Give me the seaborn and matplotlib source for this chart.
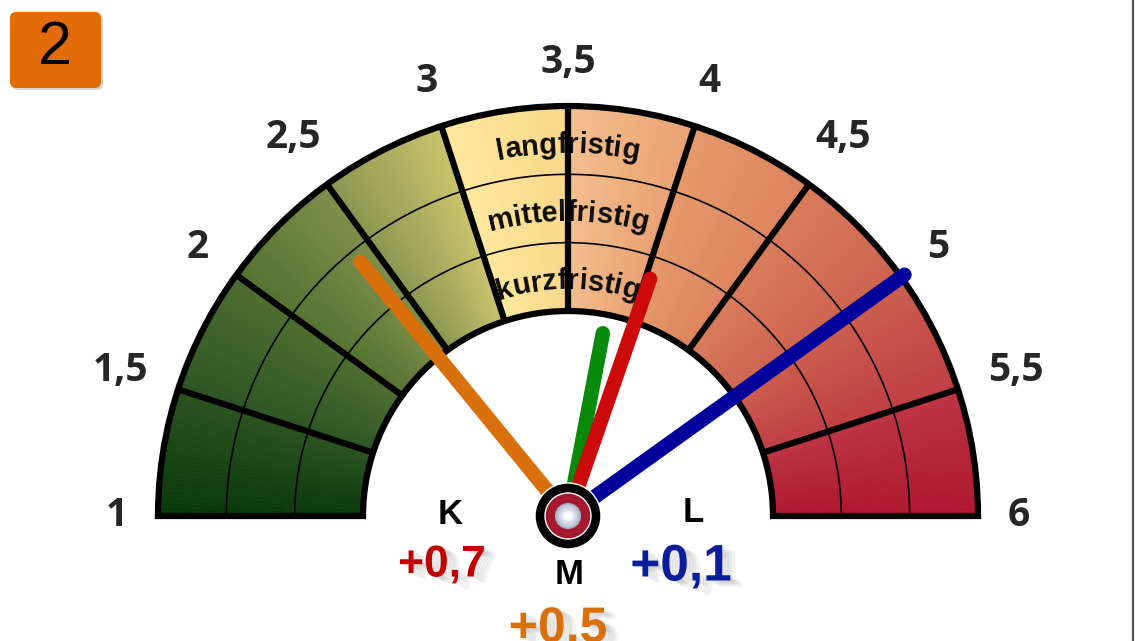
import numpy as np
import matplotlib
matplotlib.use("Agg")
import matplotlib.pyplot as plt
import matplotlib.patches as mpatches
import matplotlib.patheffects as pe
from matplotlib.textpath import TextToPath
from matplotlib.font_manager import FontProperties
import seaborn as sns

''' Data '''
# scale of the gauge (half steps)
scale_values = [1, 1.5, 2, 2.5, 3, 3.5, 4, 4.5, 5, 5.5, 6]
scale_labels = ["1", "1,5", "2", "2,5", "3", "3,5", "4", "4,5", "5", "5,5", "6"]

# colour at the low / high end of every half-step sector
sector_start = ["#0a380a", "#2d5524", "#547331", "#8a9650", "#fde89e",
                "#f3bf8d", "#e6996a", "#d97c5a", "#cb5e4e", "#bd3443"]
sector_end = ["#2a5320", "#4e6e2f", "#7d8e4a", "#c9c26c", "#f9d88a",
              "#e9a273", "#dd845e", "#ce6450", "#c03f44", "#ae1730"]

# rings from inside to outside
ring_labels = ["kurzfristig", "mittelfristig", "langfristig"]

# needles
needle_values = [2.41, 3.80, 4.03, 5.01]
needle_colors = ["#d9700b", "#0a8a0a", "#cc0a0a", "#00009a"]
needle_lengths = [328, 186, 251, 414]

# K / M / L changes
group_names = ["K", "M", "L"]
group_changes = ["+0,7", "+0,5", "+0,1"]
group_colors = ["#c00000", "#d9700b", "#0a1e9a"]

badge = "2"

''' Layout '''
sns.set_style("white")
plt.rcParams["font.family"] = ["Open Sans", "DejaVu Sans"]

W, H = 1136, 641
fig = plt.figure(figsize=(W / 100, H / 100), dpi=100)
ax = fig.add_axes([0, 0, 1, 1])
ax.set_xlim(0, W)
ax.set_ylim(0, H)
ax.axis("off")

CX, CY = 568, 125
R_IN, R_OUT = 205, 410
ring_edges = np.linspace(R_IN, R_OUT, 4)
ttp = TextToPath()


def deg(v):
    return 180 - (v - 1) * 36


def polar(v, r):
    a = np.radians(deg(v))
    return CX + r * np.cos(a), CY + r * np.sin(a)


def width_px(s, prop):
    if s == "":
        return 0.0
    return ttp.get_text_width_height_descent(s, prop, ismath=False)[0] * 100 / 72


# gradient sectors
n_sub = 30
for i in range(len(scale_values) - 1):
    cols = sns.blend_palette([sector_start[i], sector_end[i]], n_colors=n_sub)
    edges = np.linspace(scale_values[i], scale_values[i + 1], n_sub + 1)
    for j in range(n_sub):
        ax.add_patch(mpatches.Wedge((CX, CY), R_OUT, deg(edges[j + 1]), deg(edges[j]),
                                    width=R_OUT - R_IN, fc=cols[j], ec=cols[j], lw=0.6, zorder=1))

# ring texts along the arcs
fp = FontProperties(family="Liberation Sans", weight="bold", size=21)
for lab, rb in zip(ring_labels, [227, 295, 363]):
    total = width_px(lab, fp)
    for k, ch in enumerate(lab):
        mid = (width_px(lab[:k], fp) + width_px(lab[:k + 1], fp)) / 2
        a = np.pi / 2 - (mid - total / 2) / rb
        ax.text(CX + rb * np.cos(a), CY + rb * np.sin(a), ch, fontproperties=fp,
                rotation=np.degrees(a) - 90, rotation_mode="anchor",
                ha="center", va="baseline", color="#0d0d0d", zorder=2)

# thin ring dividers
t = np.radians(np.linspace(0, 180, 300))
for r in ring_edges[1:3]:
    ax.plot(CX + r * np.cos(t), CY + r * np.sin(t), color="black", lw=1.2, zorder=3)

# thick sector dividers
for v in scale_values[1:-1]:
    x0, y0 = polar(v, R_IN)
    x1, y1 = polar(v, R_OUT)
    ax.plot([x0, x1], [y0, y1], color="black", lw=4.5, solid_capstyle="butt", zorder=3)

# outline
ax.add_patch(mpatches.Wedge((CX, CY), R_OUT, 0, 180, width=R_OUT - R_IN, fill=False,
                            ec="black", lw=4.5, joinstyle="miter", zorder=3))

# scale labels, pushed out so their inner edge keeps the same gap to the rim
lp = FontProperties(family="Open Sans", weight="bold", size=28)
for v, lab in zip(scale_values, scale_labels):
    a = np.radians(deg(v))
    half = width_px(lab, lp) / 2 * abs(np.cos(a)) + 14 * abs(np.sin(a))
    x, y = polar(v, 440 + half)
    ax.text(x, y, lab, ha="center", va="center", fontproperties=lp,
            color="#262626", zorder=4)

# needles
for v, c, L in zip(needle_values, needle_colors, needle_lengths):
    x1, y1 = polar(v, L)
    ax.plot([CX, x1], [CY, y1], color=c, lw=10.5, solid_capstyle="round", zorder=5)

# pivot
ax.add_patch(mpatches.Circle((CX, CY), 33, fc="black", zorder=6))
ax.add_patch(mpatches.Circle((CX, CY), 23, fc="#a3182f", zorder=6))
hub = sns.blend_palette(["#a9b3c6", "#ffffff"], n_colors=12)
for c, r in zip(hub, np.linspace(13, 3, 12)):
    ax.add_patch(mpatches.Circle((CX, CY), r, fc=c, ec="none", zorder=7))

# K / M / L labels and changes
shadow = [pe.SimplePatchShadow(offset=(o, -o * 0.5), shadow_rgbFace="#000000", alpha=0.045)
          for o in (1, 3, 5, 7, 9)] + [pe.Normal()]
name_pos = [(450, 126), (569, 66), (693, 128)]
change_pos = [(442, 76), (558, 12), (681, 74)]
change_size = [32, 36, 37]
for name, chg, col, npos, cpos, fs in zip(group_names, group_changes, group_colors,
                                          name_pos, change_pos, change_size):
    ax.text(*npos, name, ha="center", va="center", fontsize=25, fontweight="bold",
            family="Liberation Sans", color="black", zorder=8)
    ax.text(*cpos, chg, ha="center", va="center", fontsize=fs, fontweight="bold",
            family="Liberation Sans", color=col, path_effects=shadow, zorder=8)

# badge
ax.add_patch(mpatches.FancyBboxPatch((12, 551), 91, 76, boxstyle="round,pad=0,rounding_size=6",
                                     fc="#999999", ec="none", alpha=0.4, zorder=8))
ax.add_patch(mpatches.FancyBboxPatch((10, 553), 91, 76, boxstyle="round,pad=0,rounding_size=6",
                                     fc="#e36c09", ec="none", zorder=9))
ax.text(55, 593, badge, ha="center", va="center", fontsize=44, family="Liberation Sans",
        color="black", zorder=10)

# right border
ax.plot([1133, 1133], [0, H], color="#555555", lw=1.6, zorder=10)

fig.savefig("out.png", dpi=100)
